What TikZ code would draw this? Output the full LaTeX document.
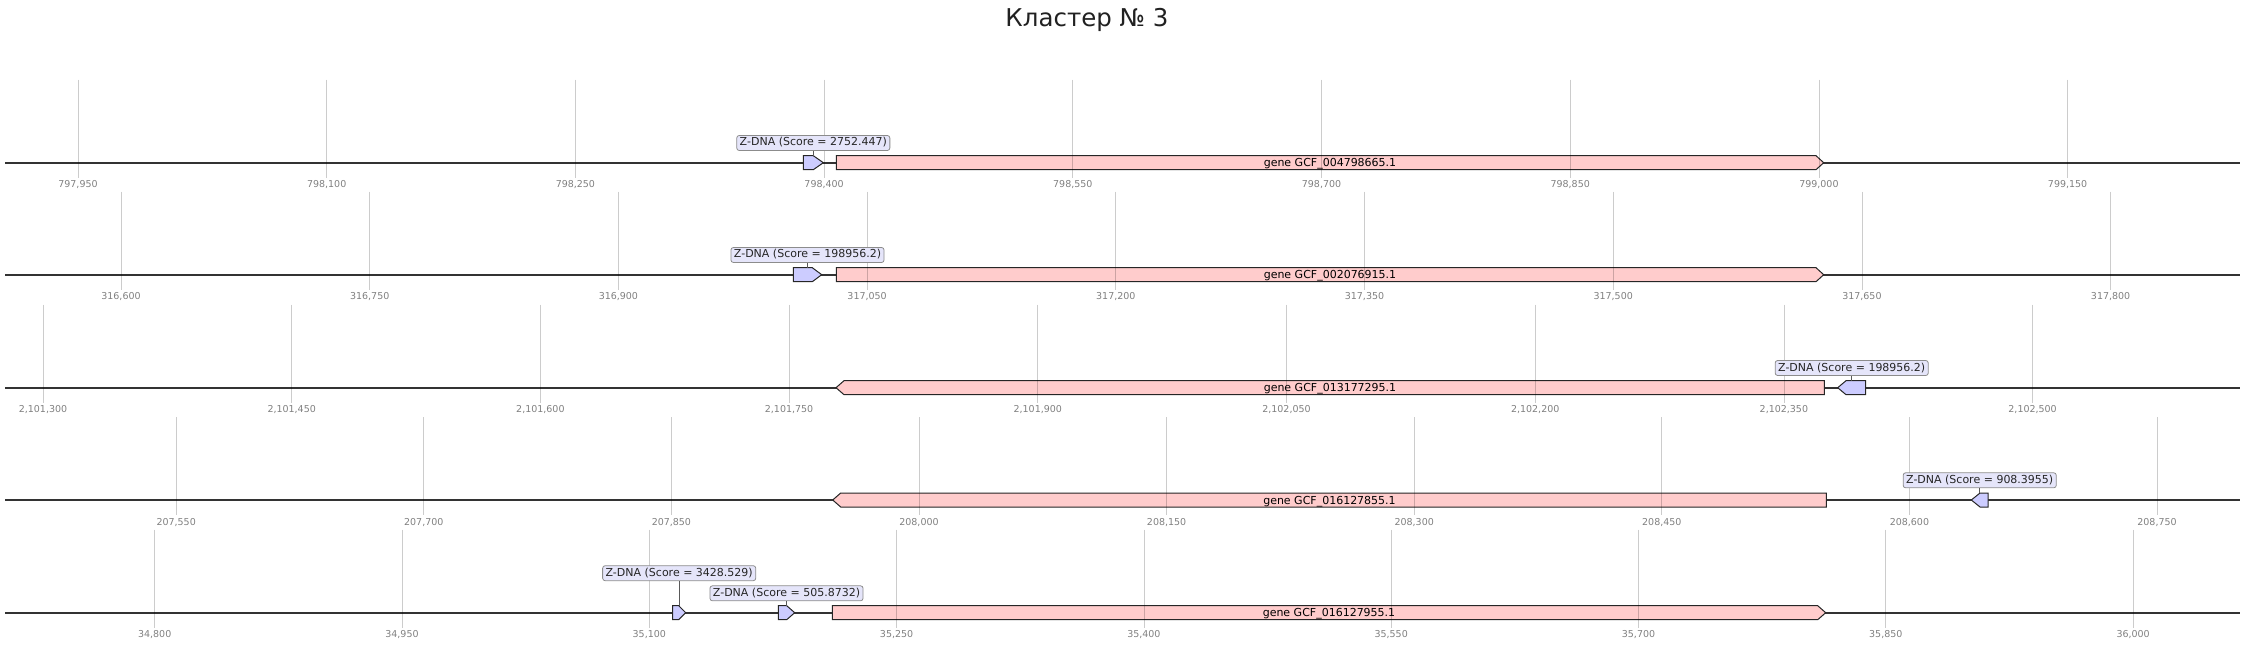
\documentclass[tikz,border=0pt]{standalone}
\usepackage{fontspec}
\setmainfont{DejaVu Sans}
\definecolor{genepink}{RGB}{255,204,204}
\definecolor{zdnablue}{RGB}{204,204,255}
\definecolor{zdnalabel}{RGB}{229,229,250}
\definecolor{axisgray}{RGB}{51,51,51}
\definecolor{ticktext}{RGB}{128,128,128}
\usetikzlibrary{positioning}

\begin{document}
\begin{tikzpicture}[x=1pt, y=-1pt,
  backbone/.style={draw=axisgray, line width=1.7pt},
  tickline/.style={draw=black, draw opacity=0.2, line width=0.8pt},
  ticklabel/.style={text=ticktext, font=\fontsize{9.5}{11}\selectfont, inner sep=0pt, anchor=base},
  genebox/.style={draw=black!85, line width=1pt, fill=genepink},
  zdnabox/.style={draw=black!85, line width=1pt, fill=zdnablue},
  genename/.style={font=\fontsize{11}{13}\selectfont, inner sep=0pt, anchor=base},
  scorelabel/.style={draw=black!45, fill=zdnalabel, rounded corners=2.5pt, line width=0.8pt,
    font=\fontsize{11}{13}\selectfont, text=black!85, inner xsep=3pt, inner ysep=2pt,
    text height=8.5pt, text depth=2.5pt},
  leader/.style={draw=black!65, line width=0.8pt}]

\useasboundingbox (0,0) rectangle (2246,647);

\node[font=\fontsize{24.5}{28}\selectfont, text=black!87, anchor=base] (title) at (1087,26.7) {Кластер № 3};

% Backbones
\draw[backbone] (5,162.7) -- (2240,162.7);
\draw[backbone] (5,274.7) -- (2240,274.7);
\draw[backbone] (5,387.7) -- (2240,387.7);
\draw[backbone] (5,500) -- (2240,500);
\draw[backbone] (5,612.7) -- (2240,612.7);

% Row 1
\draw[zdnabox] (803.3,155.7) -- (813.3,155.7) -- (823.3,162.7) -- (813.3,169.7) -- (803.3,169.7) -- cycle;
\coordinate (z1top) at (813.3,155.7);
\draw[genebox] (836.3,155.7) -- (1816,155.7) -- (1823.7,162.7) -- (1816,169.7) -- (836.3,169.7) -- cycle;

% Row 2
\draw[zdnabox] (793.3,267.7) -- (812.3,267.7) -- (821.7,274.7) -- (812.3,281.7) -- (793.3,281.7) -- cycle;
\coordinate (z2top) at (807.5,267.7);
\draw[genebox] (836.3,267.7) -- (1816,267.7) -- (1823.7,274.7) -- (1816,281.7) -- (836.3,281.7) -- cycle;

% Row 3
\draw[genebox] (836,387.7) -- (844,380.7) -- (1824.3,380.7) -- (1824.3,394.7) -- (844,394.7) -- cycle;
\draw[zdnabox] (1837.7,387.7) -- (1846,380.7) -- (1865.7,380.7) -- (1865.7,394.7) -- (1846,394.7) -- cycle;
\coordinate (z3top) at (1851.7,380.7);

% Row 4
\draw[genebox] (832.7,500) -- (840.7,493) -- (1826.3,493) -- (1826.3,507) -- (840.7,507) -- cycle;
\draw[zdnabox] (1971.3,500) -- (1980,493) -- (1988,493) -- (1988,507) -- (1980,507) -- cycle;
\coordinate (z4top) at (1979.7,493);

% Row 5
\draw[zdnabox] (672.7,605.7) -- (678.7,605.7) -- (685.7,612.7) -- (678.7,619.7) -- (672.7,619.7) -- cycle;
\coordinate (z5top) at (679.2,605.7);
\draw[zdnabox] (778.3,605.7) -- (786.7,605.7) -- (794.7,612.7) -- (786.7,619.7) -- (778.3,619.7) -- cycle;
\coordinate (z6top) at (786.5,605.7);
\draw[genebox] (832.3,605.7) -- (1817.7,605.7) -- (1825.7,612.7) -- (1817.7,619.7) -- (832.3,619.7) -- cycle;

% Ruler ticks
\foreach \t [count=\i from 0] in {{797,950},{798,100},{798,250},{798,400},{798,550},{798,700},{798,850},{799,000},{799,150}} {
  \draw[tickline] (78+\i*248.7,79.7) -- (78+\i*248.7,177.7);
  \node[ticklabel] (ra\i) at (78+\i*248.7,187.7) {\t};
}
\foreach \t [count=\i from 0] in {{316,600},{316,750},{316,900},{317,050},{317,200},{317,350},{317,500},{317,650},{317,800}} {
  \draw[tickline] (121+\i*248.7,191.7) -- (121+\i*248.7,289.7);
  \node[ticklabel] (rb\i) at (121+\i*248.7,299.7) {\t};
}
\foreach \t [count=\i from 0] in {{2,101,300},{2,101,450},{2,101,600},{2,101,750},{2,101,900},{2,102,050},{2,102,200},{2,102,350},{2,102,500}} {
  \draw[tickline] (43+\i*248.7,304.7) -- (43+\i*248.7,402.7);
  \node[ticklabel] (rc\i) at (43+\i*248.7,412.7) {\t};
}
\foreach \t [count=\i from 0] in {{207,550},{207,700},{207,850},{208,000},{208,150},{208,300},{208,450},{208,600},{208,750}} {
  \draw[tickline] (176.2+\i*247.6,417) -- (176.2+\i*247.6,515);
  \node[ticklabel] (rd\i) at (176.2+\i*247.6,525) {\t};
}
\foreach \t [count=\i from 0] in {{34,800},{34,950},{35,100},{35,250},{35,400},{35,550},{35,700},{35,850},{36,000}} {
  \draw[tickline] (154.7+\i*247.3,529.7) -- (154.7+\i*247.3,627.7);
  \node[ticklabel] (re\i) at (154.7+\i*247.3,637.7) {\t};
}

% Gene names
\node[genename] (g1) at (1330,166.7) {gene GCF\_004798665.1};
\node[genename] (g2) at (1330,278.7) {gene GCF\_002076915.1};
\node[genename] (g3) at (1330,391.7) {gene GCF\_013177295.1};
\node[genename] (g4) at (1329.5,504) {gene GCF\_016127855.1};
\node[genename] (g5) at (1329,616.7) {gene GCF\_016127955.1};

% Score labels
\node[scorelabel] (z1) at (813.3,143) {Z-DNA (Score = 2752.447)};
\node[scorelabel] (z2) at (807.5,255) {Z-DNA (Score = 198956.2)};
\node[scorelabel] (z3) at (1851.7,368) {Z-DNA (Score = 198956.2)};
\node[scorelabel] (z4) at (1979.7,480.3) {Z-DNA (Score = 908.3955)};
\node[scorelabel] (z5) at (679.2,573.2) {Z-DNA (Score = 3428.529)};
\node[scorelabel] (z6) at (786.5,593.3) {Z-DNA (Score = 505.8732)};

% Connecting lines
\draw[leader] (z1.south) -- (z1top);
\draw[leader] (z2.south) -- (z2top);
\draw[leader] (z3.south) -- (z3top);
\draw[leader] (z4.south) -- (z4top);
\draw[leader] (z5.south) -- (z5top);
\draw[leader] (z6.south) -- (z6top);

\end{tikzpicture}
\end{document}
